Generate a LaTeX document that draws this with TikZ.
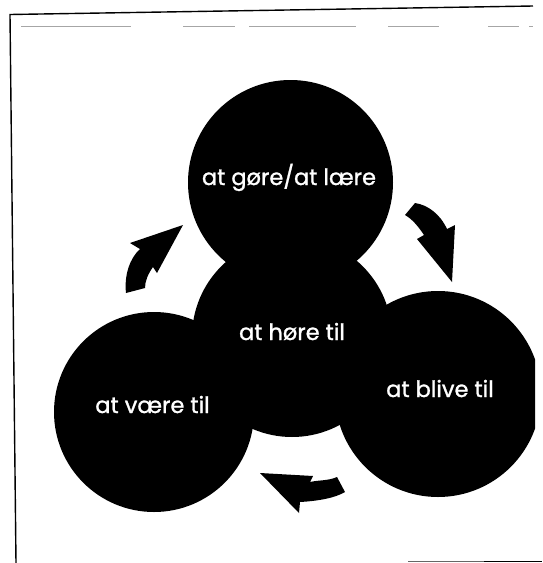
\documentclass[tikz,border=0pt]{standalone}
\usepackage{fontspec}
\newfontfamily\pop[FakeBold=1.2]{Poppins}
\begin{document}
\begin{tikzpicture}[x=1pt,y=-1pt,
  blob/.style={circle, fill=black, draw=none, inner sep=0pt},
  lbl/.style={text=white, font=\pop\fontsize{22.5}{26}\selectfont, anchor=base, inner sep=0pt},
  blockarrow/.style={fill=black, draw=none},
  frameline/.style={line width=1.4pt, black},
  faintline/.style={line width=0.7pt, black!35}]
\useasboundingbox (0,0) rectangle (542,563);
\fill[white] (0,0) rectangle (542,563);

% scanned frame
\coordinate (ftl) at (10,14.5);
\coordinate (ftr) at (533,6);
\coordinate (fbl) at (16,563);
\draw[frameline] (ftr) -- (ftl) -- (fbl);
\foreach \a/\b in {21/131,183/235,249/356,388/439,488/519,529/533}
  \draw[faintline] (\a,26) -- (\b,26);
\draw[line width=1.2pt, black!60] (408,561.5) -- (484,561.5);
\draw[line width=1.2pt, black] (484,561.5) -- (542,561.5);

% circles
\node[blob, minimum size=205pt] (top) at (290.5,182.5) {};
\node[blob, minimum size=200pt] (left) at (154,412) {};
\begin{scope}
  \clip (0,0) rectangle (535,563);
  \node[blob, minimum size=206pt] (right) at (438,394) {};
\end{scope}
\node[blob, minimum size=200pt] (mid) at (292,337) {};

% labels
\node[lbl] (ttop) at (289,185) {at gøre/at lære};
\node[lbl] (tmid) at (292,340) {at høre til};
\node[lbl] (tleft) at (152.5,413) {at være til};
\node[lbl] (tright) at (440,397) {at blive til};

% curved block arrows
\fill[blockarrow] (126,293) .. controls (124,275) and (130,258) .. (140,249)
  -- (130,243) -- (183,225) -- (157,273) -- (153,267)
  .. controls (148,274) and (145,281) .. (145,288) -- cycle;
\fill[blockarrow] (415,203) .. controls (428,205) and (440,214) .. (447,229)
  -- (455,225) -- (452,282) -- (417,239) -- (424,235)
  .. controls (418,226) and (412,219) .. (405,215) -- cycle;
\fill[blockarrow] (337,477) .. controls (328,481) and (318,480) .. (310,482)
  -- (313,476) -- (260,473) -- (299,513) -- (300,502)
  .. controls (318,501) and (335,498) .. (345,492) -- cycle;
\end{tikzpicture}
\end{document}
